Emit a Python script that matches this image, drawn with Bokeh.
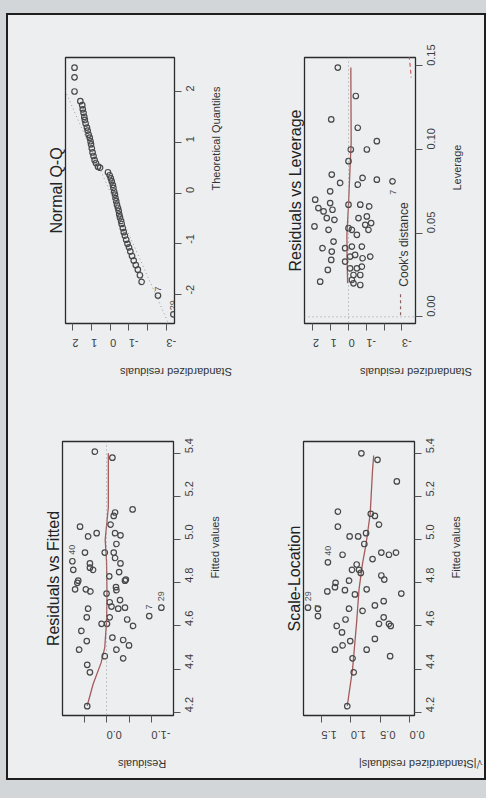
import math
from bokeh.plotting import figure
from bokeh.models import Range1d, FixedTicker, Span, Slope, Label, GlobalInlineStyleSheet
from bokeh.layouts import column, row
from bokeh.core.properties import value
from bokeh.embed import file_html
from bokeh.resources import INLINE

FONT = "Liberation Sans"

# ---------------- data ----------------
# Normal Q-Q: standardized residuals vs theoretical quantiles
qq_resid = [1.89, 1.89, 1.89, 1.58, 1.48, 1.45, 1.41, 1.37, 1.34, 1.30,
            1.23, 1.19, 1.14, 1.08, 1.04, 1.01, 0.97, 0.93, 0.88, 0.82,
            0.75, 0.64, 0.53, 0.11, 0.02, -0.04, -0.09, -0.15, -0.18, -0.22,
            -0.26, -0.29, -0.33, -0.37, -0.42, -0.46, -0.49, -0.53, -0.59, -0.62,
            -0.68, -0.73, -0.79, -0.86, -0.93, -1.01, -1.08, -1.17, -1.26, -1.37,
            -1.48, -1.59, -1.68, -2.55, -3.37]
qq_theor = [2.47, 2.28, 2.00, 1.81, 1.73, 1.65, 1.58, 1.50, 1.44, 1.37,
            1.29, 1.23, 1.15, 1.09, 1.02, 0.96, 0.88, 0.80, 0.73, 0.65,
            0.59, 0.52, 0.50, 0.41, 0.35, 0.29, 0.23, 0.16, 0.10, 0.03,
            -0.03, -0.10, -0.16, -0.23, -0.29, -0.35, -0.42, -0.48, -0.55, -0.61,
            -0.69, -0.77, -0.84, -0.92, -1.00, -1.07, -1.15, -1.24, -1.33, -1.42,
            -1.51, -1.62, -1.75, -2.02, -2.39]
qq_line_slope = 0.833
qq_line_icpt = 0.025
qq_label_idx = [53, 54]
qq_label_txt = ["7", "29"]

# Residuals vs Leverage
lev_h = [0.149, 0.132, 0.118, 0.113, 0.105, 0.100, 0.100, 0.093, 0.085, 0.080,
         0.079, 0.083, 0.082, 0.081, 0.075, 0.070, 0.068, 0.065, 0.063, 0.064,
         0.067, 0.067, 0.066, 0.059, 0.058, 0.059, 0.060, 0.055, 0.056, 0.054,
         0.052, 0.053, 0.052, 0.049, 0.052, 0.045, 0.041, 0.039, 0.041, 0.042,
         0.042, 0.036, 0.034, 0.036, 0.035, 0.028, 0.029, 0.029, 0.030, 0.025,
         0.025, 0.021, 0.022, 0.020, 0.019, 0.033, 0.037]
lev_resid = [0.60, -0.41, 0.97, -0.52, -1.59, -0.13, -1.03, 0.00, 0.94, 0.47,
             -0.52, -0.79, -1.59, -2.47, 1.03, 1.87, 1.03, 1.69, 1.40, 0.90,
             0.00, -0.66, -1.16, 1.22, 0.79, -0.56, -1.03, -0.94, -1.27, 1.91,
             1.12, 0.00, -0.19, -0.47, -1.12, 0.84, 1.46, 0.94, 0.19, -0.19,
             -0.75, -1.22, 0.97, -0.09, -0.79, 1.16, -0.09, -0.47, -0.75, -0.28,
             -0.66, 1.59, -0.19, -0.28, -0.66, 0.19, -0.37]
lev_smooth_h = [0.020, 0.035, 0.049, 0.067, 0.090, 0.104, 0.149]
lev_smooth_r = [0.05, 0.08, 0.09, 0.00, -0.09, -0.15, -0.13]
cook_h = [0.156, 0.150, 0.143]
cook_r = [-3.40, -3.46, -3.52]
lev_label_idx = [13]
lev_label_txt = ["7"]

# Residuals vs Fitted
rf_fitted = [5.408, 5.380, 5.126, 5.110, 5.140, 5.070, 5.060, 5.030, 5.015, 5.030,
             5.020, 4.980, 4.940, 4.940, 4.915, 4.900, 4.940, 4.890, 4.860, 4.870,
             4.860, 4.830, 4.850, 4.815, 4.810, 4.770, 4.770, 4.760, 4.780, 4.766,
             4.750, 4.710, 4.690, 4.720, 4.685, 4.680, 4.680, 4.685, 4.646, 4.640,
             4.640, 4.610, 4.610, 4.630, 4.600, 4.577, 4.546, 4.535, 4.510, 4.530,
             4.490, 4.490, 4.460, 4.450, 4.420, 4.385, 4.228, 4.800, 4.890, 4.810]
rf_resid = [0.26, -0.13, -0.19, -0.16, -0.58, -0.09, 0.59, 0.22, 0.41, -0.19,
            -0.31, -0.22, 0.04, -0.16, -0.19, 0.76, 0.48, -0.31, 0.74, 0.37,
            0.30, -0.06, -0.28, -0.43, 0.63, 0.70, 0.46, 0.36, -0.21, -0.22,
            0.00, -0.07, -0.11, -0.30, -0.41, -0.26, 0.41, -1.22, -0.95, 0.44,
            -0.07, 0.11, -0.01, -0.46, -0.59, 0.56, -0.13, -0.37, -0.50, 0.44,
            0.61, -0.22, 0.04, -0.37, 0.43, 0.37, 0.43, 0.65, 0.37, -0.41]
rf_smooth_f = [4.23, 4.33, 4.43, 4.50, 4.62, 4.75, 4.90, 5.00, 5.15, 5.40]
rf_smooth_r = [0.43, 0.30, 0.12, 0.04, 0.00, -0.01, 0.00, 0.03, -0.04, -0.04]
rf_label_idx = [15, 37, 38]
rf_label_txt = ["40", "29", "7"]

# Scale-Location
sl_fitted = [5.400, 5.370, 5.270, 5.120, 5.110, 5.070, 5.130, 5.060, 5.015, 5.015,
             5.030, 4.980, 4.930, 4.910, 4.940, 4.930, 4.940, 4.895, 4.885, 4.860,
             4.860, 4.846, 4.834, 4.815, 4.800, 4.810, 4.770, 4.760, 4.780, 4.766,
             4.746, 4.750, 4.685, 4.680, 4.646, 4.680, 4.670, 4.695, 4.715, 4.630,
             4.640, 4.610, 4.610, 4.600, 4.600, 4.570, 4.540, 4.530, 4.510, 4.490,
             4.490, 4.460, 4.450, 4.385, 4.228]
sl_sqrt = [0.82, 0.545, 0.216, 0.66, 0.59, 0.52, 1.22, 1.22, 1.02, 0.875,
           0.74, 0.77, 1.14, 0.63, 0.48, 0.35, 0.23, 1.39, 0.90, 0.98,
           0.86, 0.83, 0.48, 0.43, 1.26, 1.03, 0.73, 1.40, 1.27, 1.10,
           0.93, 0.14, 1.73, 1.56, 1.56, 1.03, 0.80, 0.59, 0.44, 1.09,
           0.44, 0.52, 0.35, 0.32, 1.24, 1.15, 0.59, 1.01, 1.14, 1.27,
           0.73, 0.33, 0.97, 0.95, 1.06]
sl_smooth_f = [4.23, 4.40, 4.62, 4.77, 4.89, 4.98, 5.12, 5.32, 5.39]
sl_smooth_s = [1.06, 0.97, 0.90, 0.86, 0.80, 0.74, 0.67, 0.63, 0.61]
sl_label_idx = [17, 32, 34]
sl_label_txt = ["40", "29", "7"]

# Axes ticks
std_ticks = [2, 1, 0, -1, -2, -3]
std_labels = {2: "2", 1: "1", 0: "0", -1: "-1", -2: "", -3: "-3"}
q_ticks = [-2, -1, 0, 1, 2]
q_labels = {-2: "-2", -1: "-1", 0: "0", 1: "1", 2: "2"}
lev_ticks = [0, 0.05, 0.1, 0.15]
lev_labels = {0: "0.00", 0.05: "0.05", 0.1: "0.10", 0.15: "0.15"}
fit_ticks = [4.2, 4.4, 4.6, 4.8, 5.0, 5.2, 5.4]
fit_labels = {4.2: "4.2", 4.4: "4.4", 4.6: "4.6", 4.8: "4.8", 5.0: "5.0", 5.2: "5.2", 5.4: "5.4"}
res_ticks = [1.0, 0.5, 0.0, -0.5, -1.0]
res_labels = {1.0: "1.0", 0.5: "", 0.0: "0.0", -0.5: "", -1.0: "-1.0"}
sq_ticks = [1.5, 1.0, 0.5, 0.0]
sq_labels = {1.5: "1.5", 1.0: "1.0", 0.5: "0.5", 0.0: "0.0"}

BG = "#eceef0"
PT = "#484848"
RED = "#a65a5a"
PSIZE = 5.5


def panel(title, w, h, borders, xr, yr, xt, xl, yt, yl, xlab, ylab):
    l, r, t, b = borders
    p = figure(width=w, height=h, x_range=Range1d(*xr), y_range=Range1d(*yr),
               output_backend="svg", toolbar_location=None,
               x_axis_location="below", y_axis_location="right",
               title=title, title_location="left",
               min_border_left=l, min_border_right=r, min_border_top=t, min_border_bottom=b)
    p.grid.visible = False
    p.background_fill_color = BG
    p.border_fill_color = BG
    p.outline_line_color = "#2a2a2a"
    p.outline_line_width = 1.3
    p.title.text_font = FONT
    p.title.text_font_size = "16px"
    p.title.text_font_style = "normal"
    p.title.text_color = "#222222"
    p.title.align = "center"
    p.title.standoff = 2
    for ax, ticks, labs, lab, horiz in ((p.xaxis[0], xt, xl, xlab, True),
                                         (p.yaxis[0], yt, yl, ylab, False)):
        ax.ticker = FixedTicker(ticks=ticks)
        ax.major_label_overrides = labs
        ax.minor_tick_line_color = None
        ax.axis_line_color = None
        ax.major_tick_line_color = "#555555"
        ax.major_tick_out = 7
        ax.major_tick_in = 0
        ax.major_label_text_font = FONT
        ax.major_label_text_font_size = "11px"
        ax.major_label_text_color = "#3c3c3c"
        ax.axis_label = lab
        ax.axis_label_text_font = FONT
        ax.axis_label_text_font_size = "11px"
        ax.axis_label_text_font_style = "normal"
        ax.axis_label_text_color = "#333333"
        if horiz:
            ax.major_label_orientation = math.pi
            ax.axis_label_orientation = math.pi
            ax.major_label_standoff = 12
            ax.axis_label_standoff = 18
        else:
            ax.major_label_orientation = math.pi / 2
            ax.axis_label_orientation = math.pi / 2
            ax.major_label_standoff = 9
            ax.axis_label_standoff = 14
    return p


def add_labels(p, xs, ys, idx, txt, dy, align="left"):
    p.text(x=[xs[i] for i in idx], y=[ys[i] + dy for i in idx], text=txt,
           angle=math.pi / 2, text_font=value(FONT), text_font_size="9px",
           text_color="#555555", text_align=align, text_baseline="middle")


def pts(p, xs, ys):
    p.scatter(xs, ys, size=PSIZE, marker="circle", fill_color=None,
              line_color=PT, line_width=1.2)


# ---- Normal Q-Q (top left)
p1 = panel("Normal Q-Q", 237, 383, (57, 71, 40, 72), (2.37, -3.43), (-2.57, 2.67),
           std_ticks, std_labels, q_ticks, q_labels, "Standardized residuals", "Theoretical Quantiles")
p1.add_layout(Slope(gradient=qq_line_slope, y_intercept=qq_line_icpt,
                    line_color="#9a9a9a", line_dash="1 3", line_width=1))
pts(p1, qq_resid, qq_theor)
add_labels(p1, qq_resid, qq_theor, qq_label_idx, qq_label_txt, 0.08)

# ---- Residuals vs Leverage (top right)
p2 = panel("Residuals vs Leverage", 239, 383, (59, 69, 42, 75), (2.47, -3.76), (-0.004, 0.155),
           std_ticks, std_labels, lev_ticks, lev_labels, "Standardized residuals", "Leverage")
p2.add_layout(Span(location=0, dimension="height", line_color="#9a9a9a", line_dash="1 3"))
p2.add_layout(Span(location=0, dimension="width", line_color="#9a9a9a", line_dash="1 3"))
p2.line(lev_smooth_r, lev_smooth_h, line_color=RED, line_width=1.3)
p2.line(cook_r, cook_h, line_color="#d06060", line_dash="4 3", line_width=1.2)
pts(p2, lev_resid, lev_h)
add_labels(p2, lev_resid, lev_h, lev_label_idx, lev_label_txt, -0.005, align="right")
p2.segment(x0=[-2.92], y0=[0.001], x1=[-2.92], y1=[0.014], line_color="#8a6060",
           line_dash="3 3", line_width=1.2)
p2.add_layout(Label(x=-3.09, y=0.018, text="Cook's distance", angle=math.pi / 2,
                    text_font=FONT, text_font_size="12px", text_color="#333333",
                    text_align="left", text_baseline="middle"))

# ---- Residuals vs Fitted (bottom left)
p3 = panel("Residuals vs Fitted", 237, 380, (54, 72, 43, 62), (0.98, -1.49), (4.185, 5.455),
           res_ticks, res_labels, fit_ticks, fit_labels, "Residuals", "Fitted values")
p3.add_layout(Span(location=0, dimension="height", line_color="#9a9a9a", line_dash="1 3"))
p3.line(rf_smooth_r, rf_smooth_f, line_color=RED, line_width=1.3)
pts(p3, rf_resid, rf_fitted)
add_labels(p3, rf_resid, rf_fitted, rf_label_idx, rf_label_txt, 0.03)

# ---- Scale-Location (bottom right)
p4 = panel("Scale-Location", 239, 380, (58, 70, 43, 62), (1.806, -0.085), (4.185, 5.455),
           sq_ticks, sq_labels, fit_ticks, fit_labels, "\u221a|Standardized residuals|", "Fitted values")
p4.line(sl_smooth_s, sl_smooth_f, line_color=RED, line_width=1.3)
pts(p4, sl_sqrt, sl_fitted)
add_labels(p4, sl_sqrt, sl_fitted, sl_label_idx, sl_label_txt, 0.03)

root = column(row(p1, p2), row(p3, p4),
              styles={"border": "2px solid #1e1e1e", "margin-left": "6px", "margin-top": "13px",
                      "background-color": BG})
root.stylesheets = [GlobalInlineStyleSheet(css="body { background-color: #d3d6d9; margin: 0; }")]

open("out.html", "w").write(file_html(root, INLINE))
